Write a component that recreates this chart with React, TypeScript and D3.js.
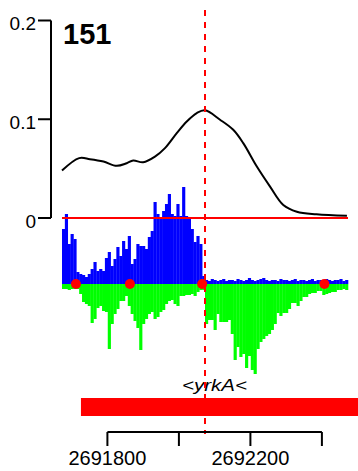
import React from "react";
import * as d3 from "d3";

const POS_START = 2691673;
const POS_END = 2692473;
const BIN = 8;
const PEAK_POS = 2692073;
const PEAK_ID = "151";

const blueCounts = [
  55, 70, 40, 50, 45, 12, 10, 9, 7, 10,
  15, 22, 13, 15, 13, 26, 32, 18, 25, 37,
  28, 43, 35, 48, 20, 25, 40, 38, 38, 35,
  47, 53, 82, 70, 67, 73, 80, 90, 70, 68,
  80, 68, 97, 68, 66, 55, 42, 48, 40, 8,
  4, 3, 5, 4, 3, 4, 5, 3, 4, 4,
  3, 5, 4, 3, 4, 6, 4, 3, 4, 5,
  6, 4, 3, 4, 4, 3, 5, 4, 4, 3,
  4, 5, 3, 4, 4, 3, 4, 5, 3, 4,
  4, 3, 5, 4, 3, 4, 4, 5, 3, 4,
];

const greenCounts = [
  5, 5, 6, 5, 5, 5, 10, 18, 20, 22,
  39, 35, 24, 22, 27, 28, 65, 40, 30, 25,
  17, 17, 12, 22, 30, 37, 44, 66, 40, 35,
  30, 28, 35, 33, 28, 26, 20, 17, 16, 20,
  22, 12, 12, 11, 11, 10, 12, 8, 6, 6,
  40, 36, 36, 46, 30, 38, 38, 38, 36, 50,
  76, 63, 73, 70, 84, 72, 86, 90, 65, 58,
  55, 52, 50, 46, 40, 29, 32, 29, 29, 25,
  19, 19, 22, 17, 13, 13, 10, 9, 9, 7,
  7, 11, 10, 9, 8, 8, 6, 6, 5, 6,
];

const curvePos = [
  2691673, 2691721, 2691751, 2691789, 2691826, 2691854, 2691872, 2691900,
  2691933, 2691961, 2691994, 2692022, 2692050, 2692073, 2692115, 2692152,
  2692180, 2692218, 2692255, 2692292, 2692330, 2692385, 2692470,
];
const curveVals = [
  0.048, 0.0606, 0.0596, 0.0572, 0.0528, 0.0555, 0.0582, 0.0565,
  0.0622, 0.0708, 0.086, 0.0978, 0.1063, 0.109, 0.0995, 0.0893,
  0.0758, 0.0521, 0.0318, 0.0132, 0.0064, 0.0038, 0.0023,
];

const dotPos = [2691712, 2691863, 2692065, 2692407];

const yTicks = [0, 0.1, 0.2];
const yTickLabels = ["0", "0.1", "0.2"];
const xTicks = [2691800, 2692000, 2692200, 2692400];
const xTickLabels = ["2691800", "", "2692200", ""];

const geneStart = 2691726;
const geneEnd = 2692700;
const geneLabel = "<yrkA<";

const W = 358;
const H = 471;

export default function App() {
  const x = d3.scaleLinear().domain([POS_START, POS_END]).range([62, 348]);
  const y = d3.scaleLinear().domain([0, 0.2]).range([218, 20.5]);
  const r = d3.scaleLinear().domain([-100, 100]).range([384, 184]);

  const line = d3
    .line<number>()
    .x((_, i) => x(curvePos[i]))
    .y((d) => y(d))
    .curve(d3.curveCatmullRom.alpha(0.5));

  const font = "'Liberation Sans', Arial, sans-serif";
  const axisX = 51;
  const gx0 = Math.max(x(geneStart), 0);
  const gx1 = Math.min(x(geneEnd), W);
  const labelPos = (Math.max(geneStart, POS_START) + Math.min(geneEnd, POS_END)) / 2;

  return (
    <svg
      width={W}
      height={H}
      style={{ position: "absolute", left: 0, top: 0, background: "#fff" }}
      fontFamily={font}
    >
      {/* blue (forward) reads */}
      <g fill="#0000ff">
        {blueCounts.map((v, i) => {
          const x0 = x(POS_START + i * BIN);
          const x1 = x(POS_START + (i + 1) * BIN);
          return (
            <rect key={i} x={x0} y={r(v)} width={x1 - x0 + 0.3} height={r(0) - r(v)} />
          );
        })}
      </g>
      {/* green (reverse) reads */}
      <g fill="#00ff00">
        {greenCounts.map((v, i) => {
          const x0 = x(POS_START + i * BIN);
          const x1 = x(POS_START + (i + 1) * BIN);
          return (
            <rect key={i} x={x0} y={r(0)} width={x1 - x0 + 0.3} height={r(-v) - r(0)} />
          );
        })}
      </g>

      {/* zero line */}
      <line x1={x(POS_START)} x2={x(POS_END)} y1={y(0)} y2={y(0)} stroke="#ff0000" strokeWidth={2} />

      {/* coverage curve */}
      <path d={line(curveVals) || ""} fill="none" stroke="#000" strokeWidth={2} />

      {/* y axis */}
      <line x1={axisX} x2={axisX} y1={y(0.2)} y2={y(0)} stroke="#000" strokeWidth={2} />
      {yTicks.map((t, i) => (
        <g key={t}>
          <line x1={axisX - 13} x2={axisX} y1={y(t)} y2={y(t)} stroke="#000" strokeWidth={2} />
          <text x={36} y={y(t) + 9.5} fontSize={19} textAnchor="end" fill="#000">
            {yTickLabels[i]}
          </text>
        </g>
      ))}

      <text x={63} y={44} fontSize={29} fontWeight="bold" fill="#000">
        {PEAK_ID}
      </text>

      {/* gene */}
      <rect x={gx0} y={398} width={gx1 - gx0} height={18} fill="#ff0000" />
      <text
        x={x(labelPos)}
        y={391}
        fontSize={16}
        fontStyle="italic"
        textAnchor="middle"
        textLength={65}
        lengthAdjust="spacingAndGlyphs"
        fill="#000"
      >
        {geneLabel}
      </text>

      {/* peak dashed line */}
      <line
        x1={x(PEAK_POS)}
        x2={x(PEAK_POS)}
        y1={10}
        y2={434}
        stroke="#ff0000"
        strokeWidth={2}
        strokeDasharray="6,6"
      />

      {/* dots */}
      {dotPos.map((p) => (
        <circle key={p} cx={x(p)} cy={r(0)} r={5} fill="#ff0000" />
      ))}

      {/* x axis */}
      <line
        x1={x(xTicks[0])}
        x2={x(xTicks[xTicks.length - 1])}
        y1={432}
        y2={432}
        stroke="#000"
        strokeWidth={2}
      />
      {xTicks.map((t, i) => (
        <g key={t}>
          <line x1={x(t)} x2={x(t)} y1={432} y2={446} stroke="#000" strokeWidth={2} />
          {xTickLabels[i] && (
            <text x={x(t)} y={465} fontSize={20} textAnchor="middle" fill="#000">
              {xTickLabels[i]}
            </text>
          )}
        </g>
      ))}
    </svg>
  );
}
